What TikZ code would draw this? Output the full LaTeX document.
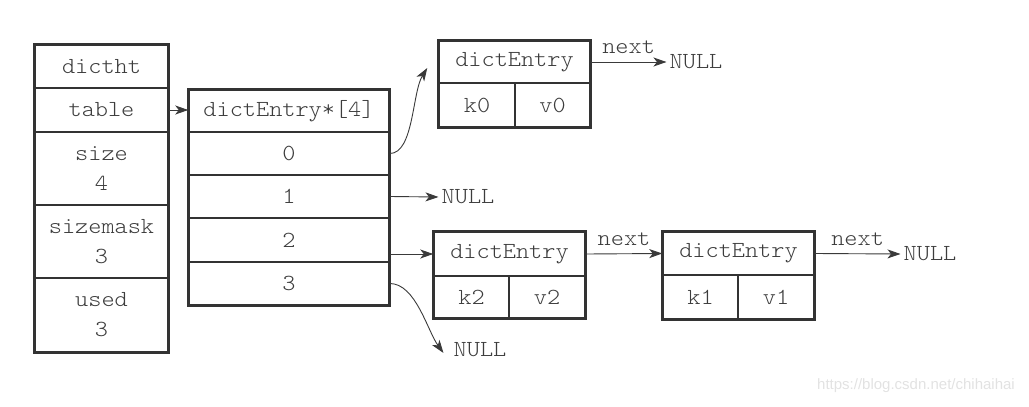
\documentclass[tikz,border=0pt]{standalone}
\usepackage{fontspec}
\newfontfamily\cour{lmmonolt10-regular.otf}[FakeStretch=1.09]
\newfontfamily\wmfont{Liberation Sans}
\usetikzlibrary{arrows.meta}
\definecolor{boxc}{HTML}{333333}
\definecolor{txtc}{HTML}{3C3C3C}
\definecolor{linec}{HTML}{3A3A3A}
\definecolor{wmc}{HTML}{E2E2E2}
\begin{document}
\begin{tikzpicture}[x=1pt,y=-1pt,
  cell/.style={draw=boxc, line width=1.5pt, inner sep=0pt, text=txtc,
    font=\cour\fontsize{23}{30}\selectfont, align=center, anchor=center},
  frame/.style={draw=boxc, line width=2.8pt},
  conn/.style={draw=linec, line width=0.9pt, -{Stealth[length=13pt,width=9pt,inset=3.5pt]}},
  lbl/.style={text=txtc, font=\cour\fontsize{23}{26}\selectfont, inner sep=3pt},
  nextlbl/.style={text=txtc, font=\cour\fontsize{23}{26}\selectfont, inner sep=0pt, above=8pt}]
\useasboundingbox (0,0) rectangle (1029,407);
% dictht
\node[cell, minimum width=133pt, minimum height=43pt] (dictht) at (101.5,66.5) {dictht};
\node[cell, minimum width=133pt, minimum height=44pt] (table) at (101.5,110) {table};
\node[cell, minimum width=133pt, minimum height=73pt] (size) at (101.5,168.5) {size\\4};
\node[cell, minimum width=133pt, minimum height=73pt] (sizemask) at (101.5,241.5) {sizemask\\3};
\node[cell, minimum width=133pt, minimum height=74pt] (used) at (101.5,315) {used\\3};
\draw[frame] (dictht.north west) rectangle (used.south east);
% array
\node[cell, minimum width=200pt, minimum height=42pt] (hdr) at (289,111) {dictEntry*[4]};
\node[cell, minimum width=200pt, minimum height=43pt] (r0) at (289,153.5) {0};
\node[cell, minimum width=200pt, minimum height=43pt] (r1) at (289,196.5) {1};
\node[cell, minimum width=200pt, minimum height=44pt] (r2) at (289,240) {2};
\node[cell, minimum width=200pt, minimum height=43pt] (r3) at (289,283.5) {3};
\draw[frame] (hdr.north west) rectangle (r3.south east);
% entry 0
\node[cell, minimum width=151pt, minimum height=42pt] (e0h) at (514.5,62) {dictEntry};
\node[cell, minimum width=76pt, minimum height=44pt] (e0k) at (477,105) {k0};
\node[cell, minimum width=75pt, minimum height=44pt] (e0v) at (552.5,105) {v0};
\draw[frame] (e0h.north west) rectangle (e0v.south east);
% entry 2
\node[cell, minimum width=151pt, minimum height=44pt] (e2h) at (509.5,254) {dictEntry};
\node[cell, minimum width=75pt, minimum height=42pt] (e2k) at (471.5,297) {k2};
\node[cell, minimum width=76pt, minimum height=42pt] (e2v) at (547,297) {v2};
\draw[frame] (e2h.north west) rectangle (e2v.south east);
% entry 1
\node[cell, minimum width=151pt, minimum height=43pt] (e1h) at (738.5,253.5) {dictEntry};
\node[cell, minimum width=75pt, minimum height=44pt] (e1k) at (700.5,297) {k1};
\node[cell, minimum width=76pt, minimum height=44pt] (e1v) at (776,297) {v1};
\draw[frame] (e1h.north west) rectangle (e1v.south east);
% NULLs
\node[lbl] (null0) at (696,62) {NULL};
\node[lbl] (null1) at (468,197) {NULL};
\node[lbl] (null2) at (930,254) {NULL};
\node[lbl] (null3) at (480,350) {NULL};
\coordinate (e0tip) at ([xshift=-11pt,yshift=-6pt]e0h.west);
\coordinate (n3tip) at ([xshift=-7pt,yshift=-3pt]null3.west);
% connectors
\draw[conn] (table.east) -- (table.east -| hdr.west);
\draw[conn] (r0.east) .. controls +(24,0) and +(-15,24) .. (e0tip);
\draw[conn] (r1.east) -- (null1.west);
\draw[conn] (r2.east |- e2h.west) -- (e2h.west);
\draw[conn] (r3.east) .. controls +(26,0) and +(-16,-22) .. (n3tip);
\draw[conn] (e0h.east) -- node[nextlbl] {next} (null0.west);
\draw[conn] (e2h.east) -- node[nextlbl] {next} (e1h.west);
\draw[conn] (e1h.east) -- node[nextlbl] {next} (null2.west);
% watermark
\node[text=wmc, font=\wmfont\fontsize{15}{18}\selectfont, inner sep=0pt] (wm) at (916,386) {https://blog.csdn.net/chihaihai};
\end{tikzpicture}
\end{document}
